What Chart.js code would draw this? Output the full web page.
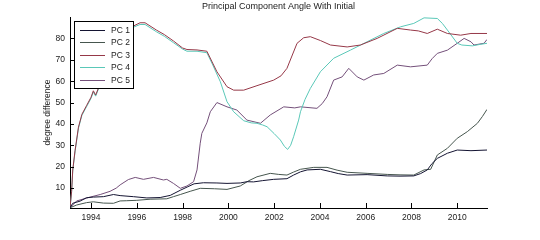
<!DOCTYPE html>
<html>
<head>
<meta charset="utf-8">
<script src="https://cdn.jsdelivr.net/npm/chart.js@4"></script>
<style>
  html, body { margin: 0; padding: 0; background: #fff; }
  #myChart { display: block; }
</style>
</head>
<body>
<canvas id="myChart" width="540" height="240"></canvas>
<script>
var chartTitle = "Principal Component Angle With Initial";
var yTitle = "degree difference";
var seriesNames = ["PC 1", "PC 2", "PC 3", "PC 4", "PC 5"];
var seriesColors = ["#141432", "#46564e", "#963848", "#5ac8b8", "#74507a"];
var xTicks = [1994, 1996, 1998, 2000, 2002, 2004, 2006, 2008, 2010];
var yTicks = [10, 20, 30, 40, 50, 60, 70, 80];

// values (year, degrees)
var pc1Years = [1993.08, 1993.2, 1993.52, 1993.8, 1994.1, 1994.54, 1994.98, 1995.27, 1995.85, 1996.44, 1997.02, 1997.46, 1997.9, 1998.2, 1998.5, 1998.91, 1999.5, 1999.94, 2000.52, 2000.81, 2001.1, 2001.5, 2001.98, 2002.56, 2002.85, 2003.15, 2003.44, 2004.02, 2004.46, 2004.8, 2005.19, 2006.06, 2006.94, 2007.5, 2008.1, 2008.4, 2008.69, 2008.9, 2009.13, 2009.57, 2010.0, 2010.6, 2011.3];
var pc1Values = [0.8, 2.9, 3.9, 5.5, 5.8, 6.0, 7.0, 6.5, 6.0, 5.4, 5.6, 6.6, 9.0, 10.5, 12.0, 12.5, 12.4, 12.2, 12.4, 13.0, 12.9, 13.5, 14.1, 14.4, 16.1, 17.6, 18.5, 18.8, 17.7, 16.8, 16.1, 16.3, 15.7, 15.6, 15.7, 16.8, 18.5, 21.5, 23.9, 26.3, 27.8, 27.5, 27.8];

var pc2Years = [1993.08, 1993.37, 1993.8, 1994.1, 1994.54, 1994.98, 1995.27, 1995.56, 1996.0, 1996.58, 1997.31, 1997.6, 1997.9, 1998.33, 1998.77, 1999.4, 1999.94, 2000.52, 2000.9, 2001.25, 2001.83, 2002.2, 2002.56, 2002.85, 2003.15, 2003.73, 2004.31, 2004.75, 2005.19, 2006.06, 2006.94, 2007.5, 2008.1, 2008.55, 2008.84, 2009.13, 2009.57, 2010.0, 2010.44, 2010.88, 2011.1, 2011.3];
var pc2Values = [0.8, 2.1, 3.2, 3.6, 3.0, 2.9, 4.0, 4.1, 4.3, 4.8, 5.0, 6.0, 7.0, 8.5, 9.9, 9.7, 9.4, 11.0, 13.5, 15.3, 16.9, 16.4, 16.1, 17.5, 18.8, 19.7, 19.7, 18.4, 17.4, 16.9, 16.4, 16.2, 16.1, 18.5, 18.8, 25.5, 28.6, 33.3, 36.4, 40.3, 43.5, 46.8];

var pc3Years = [1993.08, 1993.15, 1993.2, 1993.3, 1993.45, 1993.6, 1993.8, 1994.0, 1994.1, 1994.2, 1994.35, 1994.6, 1995.0, 1995.4, 1995.8, 1996.14, 1996.36, 1996.87, 1997.2, 1997.6, 1998.0, 1998.19, 1998.63, 1999.06, 1999.5, 1999.94, 2000.23, 2000.67, 2001.25, 2001.98, 2002.3, 2002.56, 2003.0, 2003.29, 2003.58, 2004.02, 2004.46, 2005.19, 2005.77, 2006.5, 2007.38, 2007.96, 2008.3, 2008.69, 2009.13, 2009.57, 2010.15, 2010.6, 2011.3];
var pc3Values = [0.8, 8.5, 18.5, 27.5, 38.5, 44.5, 48.5, 52.5, 55.5, 53.5, 57.5, 63.5, 72.5, 80.5, 85.5, 87.3, 87.3, 83.8, 81.8, 78.8, 75.5, 74.8, 74.6, 74.0, 64.4, 57.4, 55.8, 55.8, 57.9, 60.5, 62.5, 66.0, 77.7, 80.3, 80.8, 79.0, 76.9, 76.0, 76.9, 80.0, 84.7, 83.9, 83.5, 82.3, 84.3, 82.3, 81.5, 82.3, 82.3];

var pc4Years = [1993.08, 1993.15, 1993.2, 1993.3, 1993.45, 1993.6, 1993.8, 1994.0, 1994.1, 1994.2, 1994.35, 1994.6, 1995.0, 1995.4, 1995.8, 1996.14, 1996.36, 1996.87, 1997.2, 1997.6, 1998.0, 1998.19, 1998.63, 1999.06, 1999.3, 1999.65, 1999.94, 2000.23, 2000.67, 2001.0, 2001.25, 2001.5, 2001.69, 2002.0, 2002.27, 2002.45, 2002.59, 2002.72, 2002.85, 2003.07, 2003.15, 2003.35, 2003.58, 2004.02, 2004.6, 2005.33, 2006.06, 2006.79, 2007.52, 2008.1, 2008.55, 2009.13, 2009.35, 2009.57, 2010.0, 2010.2, 2010.66, 2011.0, 2011.3];
var pc4Values = [0.8, 8, 18, 27, 38, 44, 48, 52, 55, 53, 57, 63, 72, 80, 85, 86.5, 86.5, 83, 81, 78, 75, 74, 74, 73.3, 68, 59.7, 50.4, 45.7, 41.5, 40.5, 40.3, 39.5, 38.7, 35.5, 32.5, 29.5, 28.1, 30, 34, 41.8, 45.7, 51.5, 56.6, 64.4, 70.7, 74.5, 78.4, 82.3, 85.4, 87, 89.6, 89.3, 87, 83.9, 77.7, 76.9, 76.5, 77.2, 77.7];

var pc5Years = [1993.08, 1993.37, 1993.96, 1994.4, 1994.83, 1995.1, 1995.27, 1995.63, 1995.93, 1996.29, 1996.73, 1997.16, 1997.31, 1997.6, 1997.9, 1998.19, 1998.48, 1998.63, 1998.77, 1998.84, 1999.06, 1999.21, 1999.5, 1999.94, 2000.37, 2000.81, 2001.4, 2001.83, 2002.42, 2002.9, 2003.15, 2003.87, 2004.1, 2004.31, 2004.6, 2004.97, 2005.26, 2005.63, 2005.92, 2006.35, 2006.79, 2007.38, 2007.96, 2008.69, 2008.9, 2009.13, 2009.57, 2010.0, 2010.3, 2010.6, 2010.73, 2011.17, 2011.3];
var pc5Values = [0.8, 4.0, 5.8, 7.0, 8.5, 10, 11.5, 14.0, 15.0, 14.1, 15.0, 13.8, 14.1, 12.2, 9.9, 11, 13, 18.5, 31, 35.6, 40.5, 45.7, 50, 48, 46.5, 41.8, 40.3, 44.2, 48, 47.5, 48, 47.3, 49.5, 52.7, 60.5, 62, 66, 62, 60.5, 62.9, 63.6, 67.5, 66.7, 67.5, 70.5, 73, 74.5, 77.7, 80, 78.4, 76.9, 77.7, 79.5];

var allYears = [pc1Years, pc2Years, pc3Years, pc4Years, pc5Years];
var allValues = [pc1Values, pc2Values, pc3Values, pc4Values, pc5Values];

var fontName = "'Liberation Sans', Arial, sans-serif";
var datasets = [];
seriesNames.forEach(function (name, i) {
  var pts = allYears[i].map(function (yr, j) {
    return { x: yr, y: allValues[i][j] };
  });
  datasets.push({
    label: name,
    data: pts,
    borderColor: seriesColors[i],
    backgroundColor: seriesColors[i],
    borderWidth: 1,
    pointRadius: 0,
    tension: 0,
    fill: false
  });
});

// matlab style: inward tick marks, title over the axes, legend box top-left
var matlabBits = {
  id: "matlabBits",
  afterDraw: function (chart) {
    var ctx = chart.ctx;
    var area = chart.chartArea;
    var xs = chart.scales.x;
    var ys = chart.scales.y;
    ctx.save();
    ctx.strokeStyle = "#000";
    ctx.lineWidth = 1;
    ctx.beginPath();
    yTicks.forEach(function (v) {
      var py = Math.round(ys.getPixelForValue(v)) + 0.5;
      ctx.moveTo(area.left, py);
      ctx.lineTo(area.left + 4, py);
    });
    xTicks.forEach(function (v) {
      var px = Math.round(xs.getPixelForValue(v)) + 0.5;
      ctx.moveTo(px, area.bottom);
      ctx.lineTo(px, area.bottom - 5);
    });
    ctx.stroke();

    ctx.fillStyle = "#222";
    ctx.font = "9px " + fontName;
    ctx.textAlign = "center";
    ctx.textBaseline = "middle";
    ctx.fillText(chartTitle, (area.left + area.right) / 2, 6.5);

    // legend
    var bx = 74, by = 21, bw = 59, bh = 67;
    ctx.fillStyle = "#fff";
    ctx.fillRect(bx, by, bw, bh);
    ctx.strokeStyle = "#000";
    ctx.strokeRect(bx + 0.5, by + 0.5, bw, bh);
    ctx.font = "8.5px " + fontName;
    ctx.textAlign = "left";
    seriesNames.forEach(function (name, i) {
      var ly = Math.round(29.5 + i * 12.6) + 0.5;
      ctx.strokeStyle = seriesColors[i];
      ctx.beginPath();
      ctx.moveTo(80, ly);
      ctx.lineTo(105, ly);
      ctx.stroke();
      ctx.fillStyle = "#222";
      ctx.fillText(name, 111, ly);
    });
    ctx.restore();
  }
};

var ctx = document.getElementById("myChart").getContext("2d");
var myChart = new Chart(ctx, {
  type: "line",
  data: { datasets: datasets },
  plugins: [matlabBits],
  options: {
    responsive: false,
    animation: false,
    layout: { padding: { top: 17, right: 53, bottom: 0, left: 0 } },
    plugins: {
      legend: { display: false },
      title: { display: false },
      tooltip: { enabled: false }
    },
    scales: {
      x: {
        type: "linear",
        min: 1993.08,
        max: 2011.3,
        afterBuildTicks: function (s) {
          s.ticks = xTicks.map(function (v) { return { value: v }; });
        },
        afterFit: function (s) { s.height = 32; },
        grid: { display: false, drawTicks: false },
        border: { display: true, color: "#000", width: 1 },
        ticks: {
          padding: 5,
          color: "#222",
          font: { family: fontName, size: 8.5 },
          maxRotation: 0,
          autoSkip: false,
          callback: function (v) { return String(v); }
        }
      },
      y: {
        min: 0.7,
        max: 90,
        afterBuildTicks: function (s) {
          s.ticks = yTicks.map(function (v) { return { value: v }; });
        },
        afterFit: function (s) { s.width = 70; },
        grid: { display: false, drawTicks: false },
        border: { display: true, color: "#000", width: 1 },
        title: {
          display: true,
          text: yTitle,
          color: "#222",
          font: { family: fontName, size: 8.5 },
          padding: { top: 43, bottom: 0 }
        },
        ticks: {
          padding: 5,
          color: "#222",
          font: { family: fontName, size: 8.5 },
          callback: function (v) { return String(v); }
        }
      }
    }
  }
});
</script>
</body>
</html>
